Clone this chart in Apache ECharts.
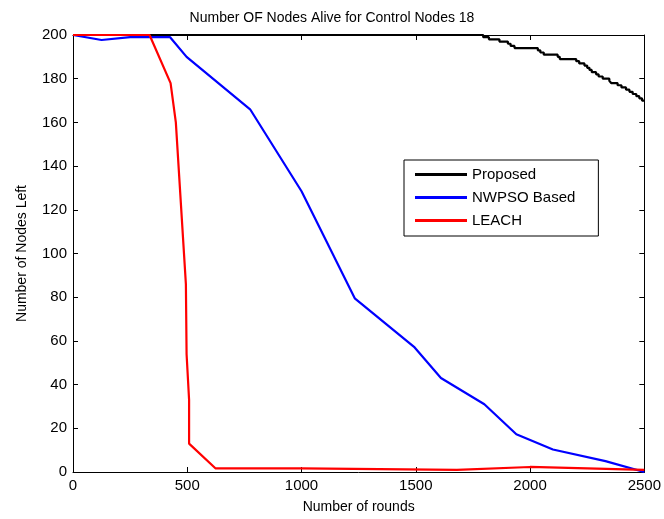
<!DOCTYPE html>
<html>
  <head>
    <meta charset="utf-8" />
    <title>Number OF Nodes Alive</title>
    <script src="https://cdn.jsdelivr.net/npm/echarts@6/dist/echarts.min.js"></script>
    <style>
      body { margin: 0; background: #fff; }
    </style>
  </head>
  <body>
    <div id="chart" style="width: 664px; height: 519px"></div>
    <script>
      /* ======= data ======= */
      var seriesNames = ["Proposed", "NWPSO Based", "LEACH"];
      var xTicks = [0, 500, 1000, 1500, 2000, 2500];
      var yTicks = [0, 20, 40, 60, 80, 100, 120, 140, 160, 180, 200];

      // [round, nodes left] - step line, value holds from round onwards
      var proposed = [
        [0, 200], [1795, 199], [1820, 198], [1866, 197], [1903, 196],
        [1915, 195], [1932, 194], [2034, 193], [2045, 192], [2060, 191],
        [2121, 190], [2130, 189], [2202, 188], [2215, 187], [2238, 186],
        [2250, 185], [2260, 184], [2270, 183], [2289, 182], [2300, 181],
        [2318, 180], [2347, 179], [2355, 178], [2383, 177], [2400, 176],
        [2420, 175], [2435, 174], [2449, 173], [2465, 172], [2478, 171],
        [2490, 170], [2500, 170],
      ];
      var nwpso = [
        [0, 200], [125, 197.7], [250, 199], [425, 199], [497, 190],
        [775, 166], [1000, 128.5], [1233, 79.5], [1495, 57], [1610, 43],
        [1800, 31], [1940, 17.3], [2100, 10.3], [2330, 5], [2500, 0],
      ];
      var leach = [
        [0, 200], [335, 200], [427, 178], [450, 160], [494, 86],
        [497, 54], [508, 33], [508, 13], [623, 1.7], [1000, 1.7],
        [1680, 1], [2000, 2.3], [2500, 1],
      ];
      /* ======= */

      var font = "Liberation Sans, Arial, sans-serif";

      function boxAxis(position, ticks, showLabel) {
        return {
          type: "value",
          position: position,
          min: ticks[0],
          max: ticks[ticks.length - 1],
          interval: ticks[1] - ticks[0],
          axisLine: { show: true, onZero: false, lineStyle: { color: "#000", width: 1 } },
          axisTick: { show: true, inside: true, length: 5, lineStyle: { color: "#000" } },
          axisLabel: {
            show: showLabel,
            color: "#000",
            fontFamily: font,
            fontSize: 15,
            margin: 6,
            formatter: function (v) { return String(v); },
          },
          splitLine: { show: false },
        };
      }

      var xMain = boxAxis("bottom", xTicks, true);
      xMain.name = "Number of rounds";
      xMain.nameLocation = "middle";
      xMain.nameGap = 28;
      xMain.nameTextStyle = { color: "#000", fontFamily: font, fontSize: 14 };

      var yMain = boxAxis("left", yTicks, true);
      yMain.name = "Number of Nodes Left";
      yMain.nameLocation = "middle";
      yMain.nameGap = 44;
      yMain.nameTextStyle = { color: "#000", fontFamily: font, fontSize: 14 };

      var xTop = boxAxis("top", xTicks, false);
      var yRight = boxAxis("right", yTicks, false);

      function lineSeries(name, data, color, step) {
        return {
          name: name,
          type: "line",
          data: data,
          step: step,
          symbol: "none",
          xAxisIndex: 0,
          yAxisIndex: 0,
          lineStyle: { color: color, width: 2.2 },
          itemStyle: { color: color },
          animation: false,
        };
      }

      var option = {
        animation: false,
        backgroundColor: "#fff",
        title: {
          text: "Number OF Nodes Alive for Control Nodes 18",
          left: "center",
          top: 6,
          textStyle: { color: "#000", fontFamily: font, fontSize: 14, fontWeight: "normal" },
        },
        grid: { left: 73, right: 17, top: 35, bottom: 47 },
        legend: {
          orient: "vertical",
          left: 404,
          top: 160,
          padding: [7, 23, 8, 11],
          itemWidth: 52,
          itemHeight: 3,
          itemGap: 8,
          icon: "rect",
          backgroundColor: "#fff",
          borderColor: "#000",
          borderWidth: 1,
          borderRadius: 0,
          textStyle: { color: "#000", fontFamily: font, fontSize: 15 },
          data: seriesNames,
        },
        xAxis: [xMain, xTop],
        yAxis: [yMain, yRight],
        series: [
          lineSeries(seriesNames[0], proposed, "#000000", "end"),
          lineSeries(seriesNames[1], nwpso, "#0000ff", false),
          lineSeries(seriesNames[2], leach, "#ff0000", false),
        ],
      };

      var chart = echarts.init(document.getElementById("chart"));
      chart.setOption(option);
    </script>
  </body>
</html>
